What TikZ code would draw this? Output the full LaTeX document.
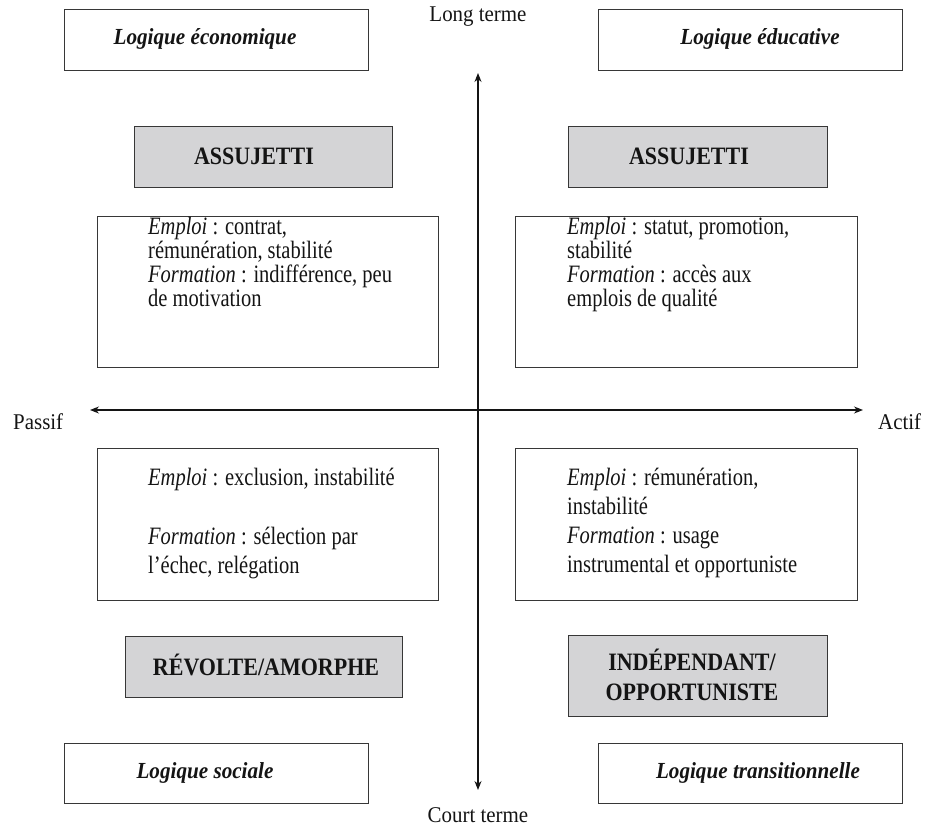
\documentclass[tikz,border=0pt]{standalone}
\usepackage{fontspec}
\setmainfont{Liberation Serif}[FakeStretch=0.82]
\newfontfamily\labfont{Liberation Serif}[FakeStretch=0.92]
\newfontfamily\catfont{Liberation Serif}[FakeStretch=0.88]
\newfontfamily\axfont{Liberation Serif}[FakeStretch=0.93]
\usetikzlibrary{arrows.meta}
\definecolor{boxgray}{RGB}{212,212,214}
\definecolor{edge}{RGB}{55,55,55}
\definecolor{ink}{RGB}{20,20,20}
\begin{document}
\begin{tikzpicture}[x=1pt,y=-1pt,
  frame/.style={draw=edge,line width=1.3pt,rectangle,inner sep=0pt,anchor=north west},
  grayframe/.style={frame,fill=boxgray},
  lab/.style={inner sep=0pt,anchor=base,text=ink,font=\labfont\fontsize{23}{27}\selectfont\bfseries\itshape},
  cat/.style={inner sep=0pt,anchor=base,text=ink,font=\catfont\fontsize{25}{29}\selectfont\bfseries},
  body/.style={inner sep=0pt,anchor=base west,text=ink,font=\fontsize{25}{28}\selectfont},
  axlab/.style={inner sep=0pt,anchor=base,text=ink,font=\axfont\fontsize{22.5}{26}\selectfont},
  axis/.style={draw=ink,line width=1.2pt,{Stealth[length=9pt,width=7pt]}-{Stealth[length=9pt,width=7pt]}}
]
\useasboundingbox (0,0) rectangle (927,829);

% axes
\coordinate (W) at (90,410);
\coordinate (E) at (863,410);
\coordinate (N) at (478,73);
\coordinate (S) at (478,790);
\draw[axis] (W) -- (E);
\draw[axis] (S) -- (N);

\node[axlab] (lt) at (478,22) {Long terme};
\node[axlab] (ct) at (478,822) {Court terme};
\node[axlab,anchor=base west] (pa) at (13,429) {Passif};
\node[axlab,anchor=base west] (ac) at (878,429) {Actif};

% logic boxes
\node[frame,minimum width=304pt,minimum height=61pt] (le) at (64,9) {};
\node[lab] (leT) at (205,45) {Logique économique};
\node[frame,minimum width=304pt,minimum height=61pt] (ld) at (598,9) {};
\node[lab] (ldT) at (760,45) {Logique éducative};
\node[frame,minimum width=304pt,minimum height=60pt] (ls) at (64,743) {};
\node[lab] (lsT) at (205,778) {Logique sociale};
\node[frame,minimum width=304pt,minimum height=60pt] (ltr) at (598,743) {};
\node[lab] (ltrT) at (758,778) {Logique transitionnelle};

% category boxes
\node[grayframe,minimum width=258pt,minimum height=61pt] (a1) at (134,126) {};
\node[cat] (a1T) at (254,165) {ASSUJETTI};
\node[grayframe,minimum width=259pt,minimum height=61pt] (a2) at (568,126) {};
\node[cat] (a2T) at (689,165) {ASSUJETTI};
\node[grayframe,minimum width=277pt,minimum height=61pt] (rv) at (125,636) {};
\node[cat] (rvT) at (266,675) {RÉVOLTE/AMORPHE};
\node[grayframe,minimum width=259pt,minimum height=81pt] (ind) at (568,635) {};
\node[cat] (indT1) at (692,670) {INDÉPENDANT/};
\node[cat] (indT2) at (692,700) {OPPORTUNISTE};

% text boxes
\node[frame,minimum width=341pt,minimum height=151pt] (t1) at (97,216) {};
\node[body] (t1a) at (148,235) {\textit{Emploi} : contrat,};
\node[body] (t1b) at (148,259) {rémunération, stabilité};
\node[body] (t1c) at (148,283) {\textit{Formation} : indifférence, peu};
\node[body] (t1d) at (148,307) {de motivation};

\node[frame,minimum width=342pt,minimum height=151pt] (t2) at (515,216) {};
\node[body] (t2a) at (567,235) {\textit{Emploi} : statut, promotion,};
\node[body] (t2b) at (567,259) {stabilité};
\node[body] (t2c) at (567,283) {\textit{Formation} : accès aux};
\node[body] (t2d) at (567,307) {emplois de qualité};

\node[frame,minimum width=341pt,minimum height=152pt] (t3) at (97,448) {};
\node[body] (t3a) at (148,485) {\textit{Emploi} : exclusion, instabilité};
\node[body] (t3c) at (148,544) {\textit{Formation} : sélection par};
\node[body] (t3d) at (148,573) {l'échec, relégation};

\node[frame,minimum width=342pt,minimum height=152pt] (t4) at (515,448) {};
\node[body] (t4a) at (567,485) {\textit{Emploi} : rémunération,};
\node[body] (t4b) at (567,514) {instabilité};
\node[body] (t4c) at (567,543) {\textit{Formation} : usage};
\node[body] (t4d) at (567,572) {instrumental et opportuniste};
\end{tikzpicture}
\end{document}
